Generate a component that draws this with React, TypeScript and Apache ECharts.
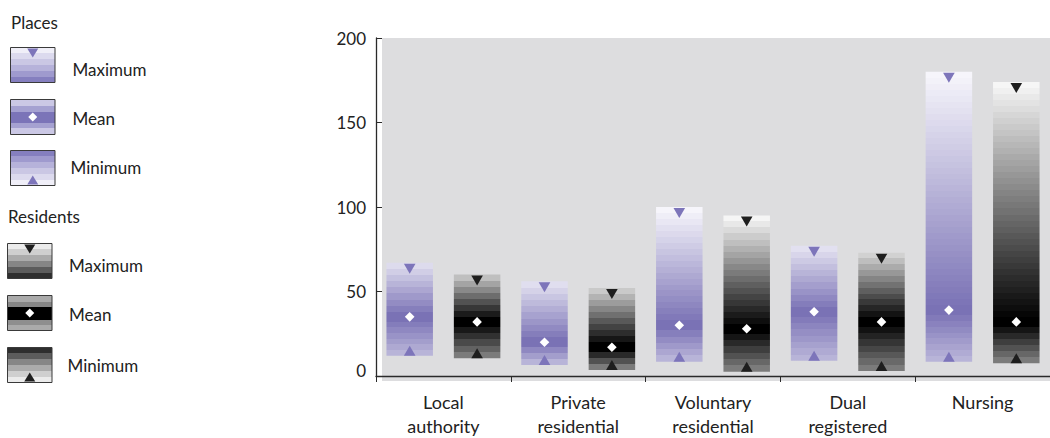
import React, { useEffect, useRef } from 'react';
import * as echarts from 'echarts';

// Home types along the category axis
const categories = ['Local\nauthority', 'Private\nresidential', 'Voluntary\nresidential', 'Dual\nregistered', 'Nursing'];

// Number of places per home: minimum, mean, maximum
const placesMin = [12, 6.5, 8.5, 9, 8.5];
const placesMean = [35, 20, 30, 38, 39];
const placesMax = [67, 56, 100, 77, 180];

// Number of residents per home: minimum, mean, maximum
const residentsMin = [10.5, 3.5, 2.5, 3, 7.5];
const residentsMean = [32, 17, 28, 32, 32];
const residentsMax = [60, 52, 95, 73, 174];

// Value axis range
const yMin = 0;
const yMax = 200;
const yStep = 50;

const FONT = 'Lato, "DejaVu Sans", sans-serif';
const TEXT = '#222';

const PURPLE_DARK = [122, 114, 181];
const PURPLE_LIGHT = [246, 245, 251];
const GREY_DARK = [0, 0, 0];
const GREY_LIGHT = [246, 246, 246];
const PURPLE_MARK = '#7d75ba';
const GREY_MARK = '#1e1e1e';

const GRID = { left: 376, top: 38, right: -10, bottom: 56 };

function mix(a: number[], b: number[], t: number) {
  const c = a.map((v, i) => Math.round(v + (b[i] - v) * t));
  return `rgb(${c[0]},${c[1]},${c[2]})`;
}

// Hard-edged colour stops: bands of colour stepping outward from the mean.
function bandStops(y0: number, y1: number, my: number, dark: number[], light: number[]) {
  const h = Math.max(1, y1 - y0);
  const core = 5;
  const step = 6;
  const bands: { a: number; b: number; t: number }[] = [];
  const cTop = Math.max(y0, my - core);
  const cBot = Math.min(y1, my + core);
  const upSpan = cTop - y0;
  const topL = Math.min(1, 0.62 + (my - y0) / 300);
  if (upSpan > 0.5) {
    const n = Math.max(1, Math.round(upSpan / step));
    for (let k = n; k >= 1; k--) {
      bands.push({ a: cTop - (k * upSpan) / n, b: cTop - ((k - 1) * upSpan) / n, t: (topL * k) / n });
    }
  }
  bands.push({ a: cTop, b: cBot, t: 0 });
  const dnSpan = y1 - cBot;
  const botL = 0.5;
  if (dnSpan > 0.5) {
    const n = Math.max(1, Math.round(dnSpan / step));
    for (let k = 1; k <= n; k++) {
      bands.push({ a: cBot + ((k - 1) * dnSpan) / n, b: cBot + (k * dnSpan) / n, t: (botL * k) / n });
    }
  }
  const stops: { offset: number; color: string }[] = [];
  bands.forEach((bd) => {
    const col = mix(dark, light, bd.t);
    stops.push({ offset: Math.min(1, Math.max(0, (bd.a - y0) / h)), color: col });
    stops.push({ offset: Math.min(1, Math.max(0, (bd.b - y0) / h)), color: col });
  });
  return stops;
}

function makeRender(side: number, dark: number[], light: number[], markColor: string) {
  return (params: any, api: any) => {
    const cat = api.value(0);
    const lo = api.value(1);
    const mean = api.value(2);
    const hi = api.value(3);
    const pTop = api.coord([cat, hi]);
    const pBot = api.coord([cat, lo]);
    const pMid = api.coord([cat, mean]);
    const band = api.size([1, 0])[0];
    const w = band * 0.345;
    const cx = pTop[0] + side * band * 0.25;
    const y0 = pTop[1];
    const y1 = pBot[1];
    const my = pMid[1];
    const tw = 5.8;
    const th = 10;
    const d = 4.8;
    return {
      type: 'group',
      children: [
        {
          type: 'rect',
          shape: { x: cx - w / 2, y: y0, width: w, height: y1 - y0 },
          style: {
            fill: { type: 'linear', x: 0, y: 0, x2: 0, y2: 1, colorStops: bandStops(y0, y1, my, dark, light) },
          },
        },
        {
          type: 'polygon',
          shape: { points: [[cx - tw, y0 + 1], [cx + tw, y0 + 1], [cx, y0 + 1 + th]] },
          style: { fill: markColor },
        },
        {
          type: 'polygon',
          shape: { points: [[cx - tw, y1], [cx + tw, y1], [cx, y1 - th]] },
          style: { fill: markColor },
        },
        {
          type: 'polygon',
          shape: { points: [[cx, my - d], [cx + d, my], [cx, my + d], [cx - d, my]] },
          style: { fill: '#ffffff' },
        },
      ],
    };
  };
}

// Legend swatch: a bordered box of colour bands with its marker
function swatch(x: number, y: number, w: number, h: number, colors: [number, string][], marker: string, markColor: string) {
  const stops: { offset: number; color: string }[] = [];
  let acc = 0;
  colors.forEach(([frac, col]) => {
    stops.push({ offset: acc, color: col });
    acc += frac;
    stops.push({ offset: Math.min(1, acc), color: col });
  });
  const cx = x + w / 2;
  let pts: number[][];
  if (marker === 'down') pts = [[cx - 5.5, y + 1], [cx + 5.5, y + 1], [cx, y + 10]];
  else if (marker === 'up') pts = [[cx - 5.5, y + h - 1], [cx + 5.5, y + h - 1], [cx, y + h - 10]];
  else pts = [[cx, y + h / 2 - 4.5], [cx + 4.5, y + h / 2], [cx, y + h / 2 + 4.5], [cx - 4.5, y + h / 2]];
  return [
    {
      type: 'rect',
      shape: { x, y, width: w, height: h },
      style: { fill: { type: 'linear', x: 0, y: 0, x2: 0, y2: 1, colorStops: stops }, stroke: '#3a3a3a', lineWidth: 1 },
    },
    {
      type: 'polygon',
      shape: { points: pts },
      style: { fill: marker === 'mean' ? '#ffffff' : markColor },
    },
  ];
}

function legendText(x: number, y: number, text: string) {
  return {
    type: 'text',
    x,
    y,
    style: { text, fill: TEXT, font: `17px ${FONT}`, textVerticalAlign: 'middle', verticalAlign: 'middle' },
  };
}

const placesMaxBands: [number, string][] = [
  [0.16, '#f0eff8'], [0.17, '#dcdaee'], [0.17, '#cac7e4'], [0.17, '#b6b2da'], [0.17, '#9f9ace'], [0.16, '#857fbf'],
];
const placesMeanBands: [number, string][] = [
  [0.2, '#cbc8e5'], [0.17, '#a5a1d1'], [0.3, '#7b74b8'], [0.15, '#a5a1d1'], [0.18, '#cbc8e5'],
];
const placesMinBands: [number, string][] = [...placesMaxBands].reverse();
const residentsMaxBands: [number, string][] = [
  [0.16, '#ebebeb'], [0.17, '#cfcfcf'], [0.17, '#ababab'], [0.17, '#868686'], [0.17, '#5c5c5c'], [0.16, '#2e2e2e'],
];
const residentsMeanBands: [number, string][] = [
  [0.18, '#aaaaaa'], [0.14, '#868686'], [0.38, '#000000'], [0.13, '#8e8e8e'], [0.17, '#aaaaaa'],
];
const residentsMinBands: [number, string][] = [...residentsMaxBands].reverse();

export default function App() {
  const ref = useRef<HTMLDivElement>(null);

  useEffect(() => {
    if (!ref.current) return;
    const chart = echarts.init(ref.current, undefined, { renderer: 'svg' });

    const placesData = categories.map((_, i) => [i, placesMin[i], placesMean[i], placesMax[i]]);
    const residentsData = categories.map((_, i) => [i, residentsMin[i], residentsMean[i], residentsMax[i]]);

    const W = 1050;
    const H = 438;
    const plotBottom = H - GRID.bottom;

    chart.setOption({
      animation: false,
      backgroundColor: '#ffffff',
      grid: { left: GRID.left, top: GRID.top, right: GRID.right, bottom: GRID.bottom, containLabel: false },
      xAxis: {
        type: 'category',
        data: categories,
        boundaryGap: true,
        axisLine: { show: true, lineStyle: { color: '#2a2a2a', width: 1.3 } },
        axisTick: { show: true, length: 6, lineStyle: { color: '#2a2a2a' } },
        axisLabel: { interval: 0, color: TEXT, fontFamily: FONT, fontSize: 18, lineHeight: 24, margin: 14 },
        splitLine: { show: false },
        z: 5,
      },
      yAxis: {
        type: 'value',
        min: yMin,
        max: yMax,
        interval: yStep,
        axisLine: { show: true, lineStyle: { color: '#2a2a2a', width: 1.3 } },
        axisTick: { show: true, inside: true, length: 6, lineStyle: { color: '#2a2a2a' } },
        axisLabel: {
          color: TEXT,
          fontFamily: FONT,
          fontSize: 17,
          margin: 10,
          // the zero label sits a little above the baseline
          formatter: (v: number) => (v === 0 ? '{z|0}' : String(v)),
          rich: { z: { color: TEXT, fontFamily: FONT, fontSize: 17, padding: [0, 0, 12, 0] } },
        },
        splitLine: { show: false },
        z: 5,
      },
      graphic: [
        {
          type: 'rect',
          z: -10,
          silent: true,
          shape: { x: GRID.left + 6, y: GRID.top, width: W - GRID.left - 6, height: plotBottom - GRID.top - 1 },
          style: { fill: '#dddddf' },
        },
        legendText(11, 22, 'Places'),
        ...swatch(10.5, 47.5, 44.5, 35, placesMaxBands, 'down', PURPLE_MARK),
        legendText(72.5, 69.5, 'Maximum'),
        ...swatch(10.5, 99.5, 44.5, 35, placesMeanBands, 'mean', PURPLE_MARK),
        legendText(72.5, 118.5, 'Mean'),
        ...swatch(10.5, 150.5, 44.5, 35, placesMinBands, 'up', PURPLE_MARK),
        legendText(70.5, 167.5, 'Minimum'),
        legendText(8, 216.5, 'Residents'),
        ...swatch(7.5, 243.5, 44.5, 35, residentsMaxBands, 'down', GREY_MARK),
        legendText(69, 265, 'Maximum'),
        ...swatch(7.5, 295.5, 44.5, 35, residentsMeanBands, 'mean', GREY_MARK),
        legendText(69, 314.5, 'Mean'),
        ...swatch(7.5, 347.5, 44.5, 35, residentsMinBands, 'up', GREY_MARK),
        legendText(67.5, 365, 'Minimum'),
      ],
      series: [
        {
          name: 'Places',
          type: 'custom',
          renderItem: makeRender(-1, PURPLE_DARK, PURPLE_LIGHT, PURPLE_MARK),
          encode: { x: 0, y: [1, 2, 3] },
          data: placesData,
          z: 3,
        },
        {
          name: 'Residents',
          type: 'custom',
          renderItem: makeRender(1, GREY_DARK, GREY_LIGHT, GREY_MARK),
          encode: { x: 0, y: [1, 2, 3] },
          data: residentsData,
          z: 3,
        },
      ],
    });

    return () => chart.dispose();
  }, []);

  return (
    <div
      ref={ref}
      style={{ position: 'fixed', left: 0, top: 0, width: 1050, height: 438, overflow: 'hidden' }}
    />
  );
}
